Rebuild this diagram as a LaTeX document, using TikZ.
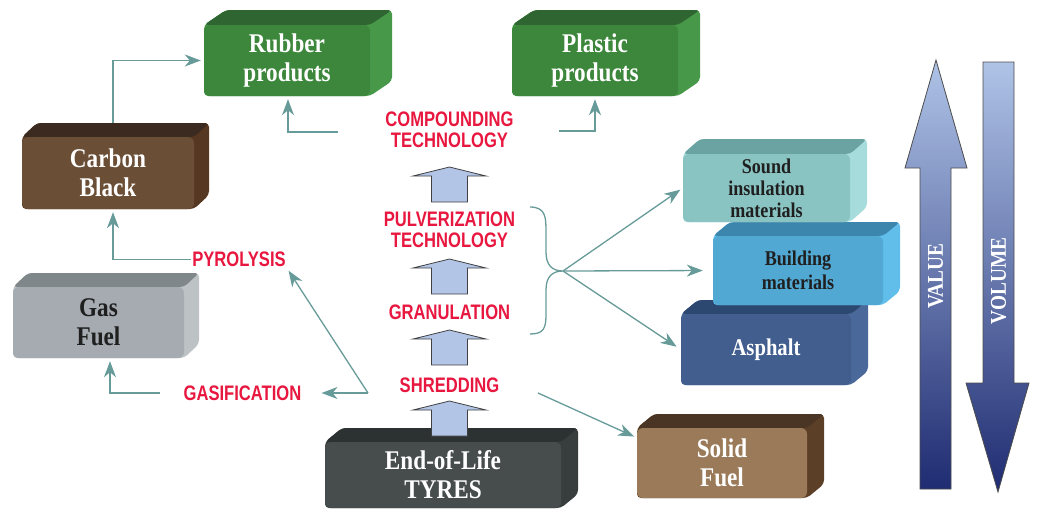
\documentclass[tikz,border=0pt]{standalone}
\usepackage{fontspec}
\newfontfamily\boxfont{Liberation Serif}[FakeStretch=0.86]
\newfontfamily\labfont{Liberation Sans}[FakeStretch=0.79]
\usetikzlibrary{arrows.meta,backgrounds}

\definecolor{rubberF}{HTML}{3C873B}\definecolor{rubberT}{HTML}{2E6531}\definecolor{rubberS}{HTML}{48984A}
\definecolor{plasticF}{HTML}{3C873B}\definecolor{plasticT}{HTML}{2E6531}\definecolor{plasticS}{HTML}{48984A}
\definecolor{carbonF}{HTML}{6B4E36}\definecolor{carbonT}{HTML}{3B2A1F}\definecolor{carbonS}{HTML}{553722}
\definecolor{gasF}{HTML}{A5ABB0}\definecolor{gasT}{HTML}{80878B}\definecolor{gasS}{HTML}{BDC3C5}
\definecolor{soundF}{HTML}{89C3C2}\definecolor{soundT}{HTML}{6BA3A2}\definecolor{soundS}{HTML}{A6DCDB}
\definecolor{buildingF}{HTML}{51A8D3}\definecolor{buildingT}{HTML}{3C86AE}\definecolor{buildingS}{HTML}{61BDEA}
\definecolor{asphaltF}{HTML}{415E8E}\definecolor{asphaltT}{HTML}{2D4870}\definecolor{asphaltS}{HTML}{4A6899}
\definecolor{solidF}{HTML}{9A7A58}\definecolor{solidT}{HTML}{4A3424}\definecolor{solidS}{HTML}{5C3F27}
\definecolor{tyresF}{HTML}{474C4C}\definecolor{tyresT}{HTML}{2C3131}\definecolor{tyresS}{HTML}{383D3D}
\definecolor{labred}{HTML}{E8173F}
\definecolor{conncol}{HTML}{679B99}
\definecolor{bafill}{HTML}{B3C5E6}
\definecolor{gtop}{HTML}{AFC3E7}
\definecolor{gmid}{HTML}{5577BB}
\definecolor{gbot}{HTML}{1F2C72}
\definecolor{vmid}{HTML}{2F62AA}

% 3D box: name, x1, y1 (top of top face), x2 (right of front), y2 (bottom), dx, dy, text style, text
\newcommand\tdbox[9]{%
  \fill[#1S, rounded corners=4pt] (#2,{#3+#7}) -- ({#2+#6},#3) -- ({#4+#6},#3) -- ({#4+#6},{#5-#7}) -- (#4,#5) -- (#2,#5) -- cycle;
  \fill[#1T, rounded corners=4pt] (#2,{#3+#7}) -- ({#2+#6},#3) -- ({#4+#6},#3) -- (#4,{#3+#7}) -- cycle;
  \node[fill=#1F, rounded corners=6pt, inner sep=0pt,
        minimum width={(#4-#2)*1pt}, minimum height={(#5-#3-#7)*1pt}, #8]
        (#1) at ({(#2+#4)/2},{(#3+#7+#5)/2}) {#9};
}
% block arrow: top y, bottom y
\newcommand\barrow[2]{%
  \filldraw[fill=bafill, draw=black!75, line width=0.8pt, line join=miter]
    (431.5,#2) -- (431.5,{#1+9}) -- (413,{#1+9}) -- (449.5,#1) -- (486,{#1+9})
    -- (467.5,{#1+9}) -- (467.5,#2) -- cycle;
}

\tikzset{
  wbig/.style={text=white, align=center, font=\boxfont\bfseries\fontsize{27}{29}\selectfont},
  kbig/.style={text=black!88, align=center, font=\boxfont\bfseries\fontsize{27}{29}\selectfont},
  ksmall/.style={text=black!88, align=center, font=\boxfont\bfseries\fontsize{21}{22}\selectfont},
  kmid/.style={text=black!88, align=center, font=\boxfont\bfseries\fontsize{21}{24}\selectfont},
  wmid/.style={text=white, align=center, font=\boxfont\bfseries\fontsize{24}{26}\selectfont},
  lab/.style={text=labred, align=center, inner sep=1pt, font=\labfont\bfseries\fontsize{21}{21}\selectfont},
  conn/.style={draw=conncol, line width=1.3pt, -{Stealth[length=16pt,width=12pt,inset=5pt]}, shorten >=3pt},
  bracel/.style={draw=conncol, line width=1.3pt},
  vtext/.style={text=white, rotate=90, font=\boxfont\bfseries\fontsize{22.5}{24}\selectfont},
}

\begin{document}
\begin{tikzpicture}[x=1pt, y=-1pt]
\useasboundingbox (0,0) rectangle (1037,509);

% boxes
\tdbox{rubber}{204}{10}{370}{96}{22}{15}{wbig}{Rubber\\products}
\tdbox{plastic}{512}{10}{678}{96}{22}{15}{wbig}{Plastic\\products}
\tdbox{carbon}{22}{123}{194}{209}{15}{14}{wbig}{Carbon\\Black}
\tdbox{gas}{13}{273}{184}{358}{15}{14}{kbig}{Gas\\Fuel}
\tdbox{asphalt}{681}{300}{851}{385}{17}{14}{wmid}{Asphalt}
\tdbox{building}{713}{222}{883}{305}{17}{14}{kmid}{Building\\materials}
\tdbox{sound}{683}{139}{850}{222}{17}{15}{ksmall}{Sound\\insulation\\materials}
\tdbox{solid}{637}{414}{807}{498}{17}{14}{wbig}{Solid\\Fuel}
\tdbox{tyres}{325}{428}{561}{508}{17}{14}{wbig}{End-of-Life\\TYRES}

% process labels
\node[lab] (comp) at (449.5,129.5) {COMPOUNDING\\TECHNOLOGY};
\node[lab] (pulv) at (449.5,230) {PULVERIZATION\\TECHNOLOGY};
\node[lab] (gran) at (449.5,312.5) {GRANULATION};
\node[lab] (shred) at (449.5,385.5) {SHREDDING};
\node[lab] (pyro) at (239,259.5) {PYROLYSIS};
\node[lab] (gasif) at (242.5,393) {GASIFICATION};

% block arrows
\barrow{167}{202}
\barrow{259}{294}
\barrow{330}{365}
\barrow{401}{436}

% value / volume arrows
\path[draw=black!70, line width=0.8pt, top color=gtop, middle color=gmid, bottom color=gbot]
  (920,489) -- (920,168) -- (905,168) -- (936,60) -- (967,168) -- (951,168) -- (951,489) -- cycle;
\path[draw=black!70, line width=0.8pt, top color=gtop, middle color=vmid, bottom color=gbot]
  (983,62) -- (1014,62) -- (1014,383) -- (1029,383) -- (998,492) -- (966,383) -- (983,383) -- cycle;
\node[vtext] (value) at (935.5,276) {VALUE};
\node[vtext] (volume) at (998.5,281) {VOLUME};

% connectors
\begin{pgfonlayer}{background}
\draw[conn] ([xshift=5pt]carbon.north) |- (rubber.west);
\draw[conn] (pyro.west) -| ([xshift=5pt]carbon.south);
\coordinate (cL) at (338,132);
\coordinate (cR) at (559,131);
\draw[conn] (cL) -| ([xshift=1pt]rubber.south);
\draw[conn] (cR) -| (plastic.south);
\coordinate (split) at (368,393);
\draw[conn] (split) -- (pyro.south east);
\draw[conn, shorten >=19pt] (split) -- (gasif.east);
\coordinate (gL) at (160,393);
\draw[conn] (gL) -| ([xshift=11.5pt]gas.south);
\coordinate (sR) at (538,393);
\draw[conn] (sR) -- ([yshift=-10pt]solid.north west);
\coordinate (bt) at (563,271);
\draw[bracel] (530,207) .. controls (546,207) and (546,218) .. (546,232) -- (546,252)
  .. controls (546,265) and (552,271) .. (bt)
  .. controls (552,271) and (546,277) .. (546,290) -- (546,314)
  .. controls (546,328) and (544,334) .. (530,334);
\draw[conn] (bt) -- (sound.west);
\draw[conn, shorten >=10pt] (bt) -- (building.west);
\draw[conn, shorten >=5pt] (bt) -- (asphalt.west);
\end{pgfonlayer}
\end{tikzpicture}
\end{document}
